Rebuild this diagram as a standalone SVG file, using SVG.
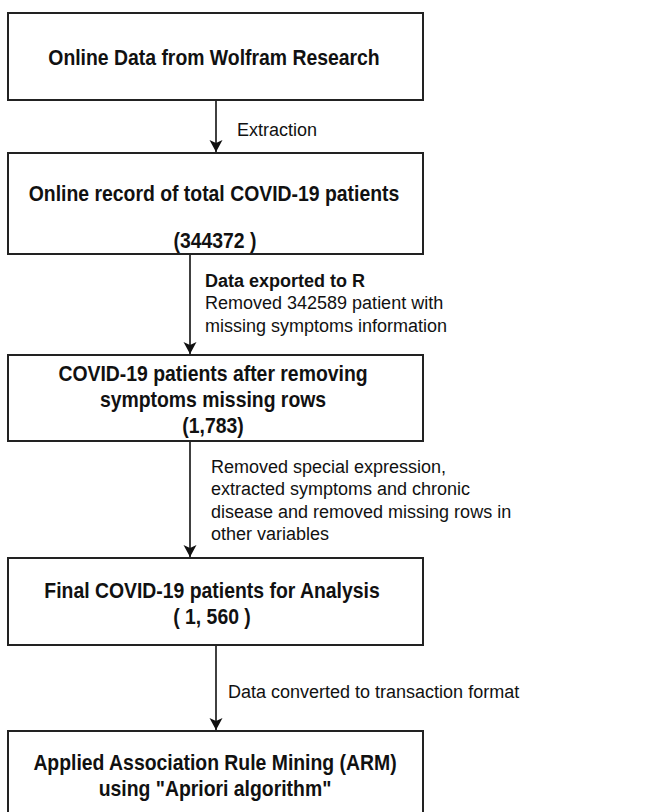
<svg xmlns="http://www.w3.org/2000/svg" width="672" height="812" viewBox="0 0 672 812">
  <style>
    .box { fill: #ffffff; stroke: #222222; stroke-width: 2; }
    .title { font-family: "Liberation Sans", Arial, sans-serif; font-weight: bold; font-size: 19.4px; fill: #111111; text-anchor: middle; }
    .label { font-family: "Liberation Sans", Arial, sans-serif; font-size: 18px; fill: #111111; }
    .label-b { font-family: "Liberation Sans", Arial, sans-serif; font-size: 18px; font-weight: bold; fill: #111111; }
    .edge { stroke: #111111; stroke-width: 1.6; fill: none; }
  </style>
  <defs>
    <marker id="arrow" markerUnits="userSpaceOnUse" markerWidth="14" markerHeight="14" refX="12" refY="6.5" orient="auto">
      <path d="M0,0 L12,6.5 L0,13 L3,6.5 Z" fill="#111111"/>
    </marker>
  </defs>
  <rect width="672" height="812" fill="#ffffff"/>

  <g id="connectors">
    <line class="edge" x1="216" y1="100" x2="216" y2="152" marker-end="url(#arrow)"/>
    <line class="edge" x1="190" y1="254" x2="190" y2="354" marker-end="url(#arrow)"/>
    <line class="edge" x1="190" y1="441" x2="190" y2="557" marker-end="url(#arrow)"/>
    <line class="edge" x1="216" y1="645" x2="216" y2="730" marker-end="url(#arrow)"/>
    <text class="label" x="237" y="136">Extraction</text>
    <text class="label-b" x="205" y="287">Data exported to R</text>
    <text class="label" x="205" y="309">Removed 342589 patient with</text>
    <text class="label" x="205" y="332">missing symptoms information</text>
    <text class="label" x="211" y="473">Removed special expression,</text>
    <text class="label" x="211" y="495">extracted symptoms and chronic</text>
    <text class="label" x="211" y="518">disease and removed missing rows in</text>
    <text class="label" x="211" y="540">other variables</text>
    <text class="label" x="228" y="698">Data converted to transaction format</text>
  </g>

  <!-- box titles are drawn slightly taller than wide -->
  <g id="node-source">
    <rect class="box" x="8" y="13" width="415" height="87"/>
    <text class="title" transform="translate(214 65) scale(1 1.1)">Online Data from Wolfram Research</text>
  </g>

  <g id="node-records">
    <rect class="box" x="8" y="153" width="415" height="101"/>
    <text class="title" transform="translate(214 201) scale(1 1.1)">Online record of total COVID-19 patients</text>
    <text class="title" transform="translate(215 248) scale(1 1.1)">(344372 )</text>
  </g>

  <g id="node-filtered">
    <rect class="box" x="8" y="355" width="415" height="86"/>
    <text class="title" transform="translate(213 381) scale(1 1.1)">COVID-19 patients after removing</text>
    <text class="title" transform="translate(213 407) scale(1 1.1)">symptoms missing rows</text>
    <text class="title" transform="translate(213 433) scale(1 1.1)">(1,783)</text>
  </g>

  <g id="node-final">
    <rect class="box" x="8" y="558" width="415" height="87"/>
    <text class="title" transform="translate(212 598) scale(1 1.1)">Final COVID-19 patients for Analysis</text>
    <text class="title" transform="translate(212 624) scale(1 1.1)">( 1, 560 )</text>
  </g>

  <g id="node-arm">
    <rect class="box" x="8" y="731" width="415" height="100"/>
    <text class="title" transform="translate(215 770) scale(1 1.1)">Applied Association Rule Mining (ARM)</text>
    <text class="title" transform="translate(215 796) scale(1 1.1)">using "Apriori algorithm"</text>
  </g>
</svg>
